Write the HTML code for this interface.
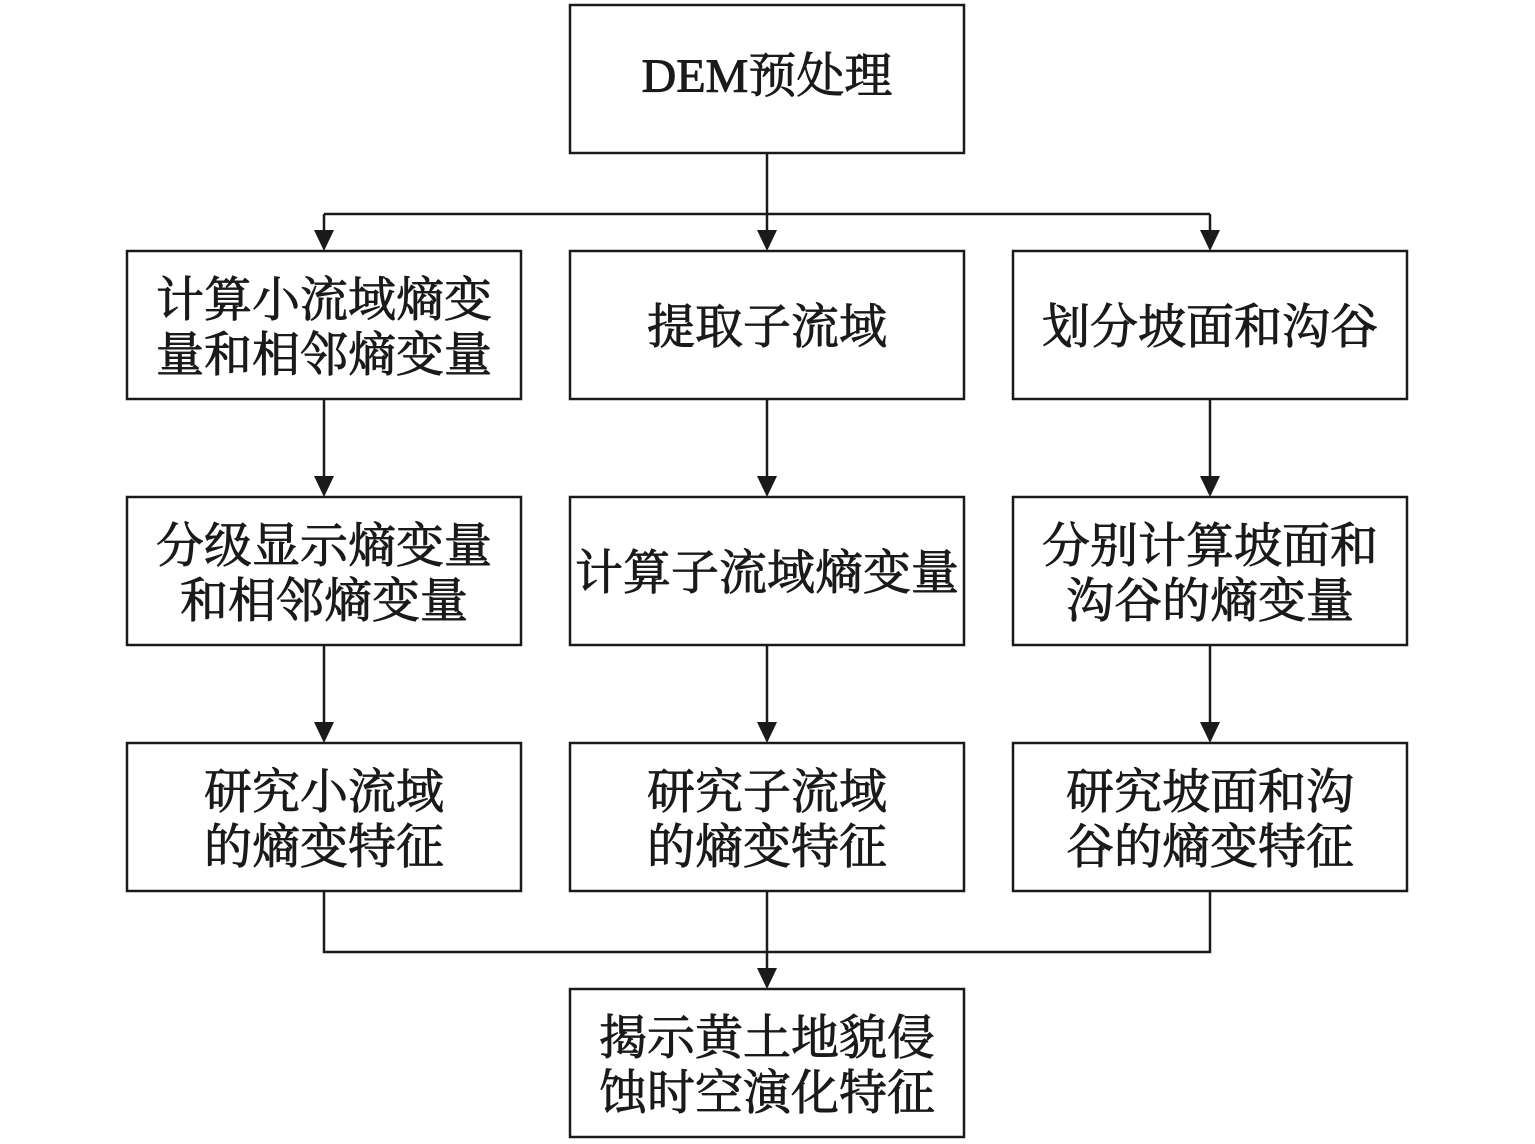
<!DOCTYPE html>
<html><head><meta charset="utf-8"><style>
html,body{margin:0;padding:0;background:#fff;}
svg{display:block;}
text{font-family:"Liberation Serif","Noto Serif CJK SC",serif;font-size:48px;fill:#1a1a1a;text-anchor:middle;stroke:#1a1a1a;stroke-width:0.9;}
</style></head><body>
<svg width="1535" height="1144" viewBox="0 0 1535 1144" xmlns="http://www.w3.org/2000/svg">
<g fill="none" stroke="#1a1a1a" stroke-width="2.5">
<rect x="570" y="5" width="394" height="148"/>
<rect x="127" y="251" width="394" height="148"/>
<rect x="570" y="251" width="394" height="148"/>
<rect x="1013" y="251" width="394" height="148"/>
<rect x="127" y="497" width="394" height="148"/>
<rect x="570" y="497" width="394" height="148"/>
<rect x="1013" y="497" width="394" height="148"/>
<rect x="127" y="743" width="394" height="148"/>
<rect x="570" y="743" width="394" height="148"/>
<rect x="1013" y="743" width="394" height="148"/>
<rect x="570" y="989" width="394" height="148"/>
<path d="M767 153V232M324 214H1210M324 214V232M1210 214V232"/>
<path d="M324 399V478M767 399V478M1210 399V478"/>
<path d="M324 645V724M767 645V724M1210 645V724"/>
<path d="M324 891V952H1210V891M767 891V970"/>
</g>
<g fill="#1a1a1a">
<path d="M314 230h20l-10 21z"/><path d="M757 230h20l-10 21z"/><path d="M1200 230h20l-10 21z"/>
<path d="M314 476h20l-10 21z"/><path d="M757 476h20l-10 21z"/><path d="M1200 476h20l-10 21z"/>
<path d="M314 722h20l-10 21z"/><path d="M757 722h20l-10 21z"/><path d="M1200 722h20l-10 21z"/>
<path d="M757 968h20l-10 21z"/>
</g>
<text x="767" y="92">DEM预处理</text>
<text x="324" y="316">计算小流域熵变</text>
<text x="324" y="371">量和相邻熵变量</text>
<text x="767" y="343">提取子流域</text>
<text x="1210" y="343">划分坡面和沟谷</text>
<text x="324" y="562">分级显示熵变量</text>
<text x="324" y="617">和相邻熵变量</text>
<text x="767" y="589">计算子流域熵变量</text>
<text x="1210" y="562">分别计算坡面和</text>
<text x="1210" y="617">沟谷的熵变量</text>
<text x="324" y="808">研究小流域</text>
<text x="324" y="863">的熵变特征</text>
<text x="767" y="808">研究子流域</text>
<text x="767" y="863">的熵变特征</text>
<text x="1210" y="808">研究坡面和沟</text>
<text x="1210" y="863">谷的熵变特征</text>
<text x="767" y="1054">揭示黄土地貌侵</text>
<text x="767" y="1109">蚀时空演化特征</text>
</svg>
</body></html>
